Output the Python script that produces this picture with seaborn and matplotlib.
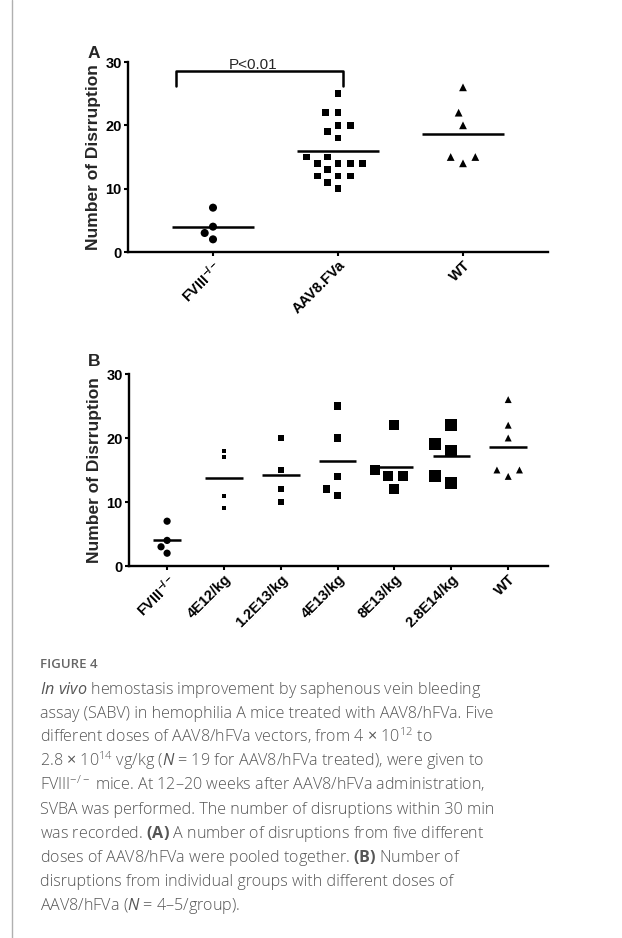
import numpy as np
import pandas as pd
import matplotlib
matplotlib.use('Agg')
import matplotlib.pyplot as plt
import seaborn as sns
from matplotlib.lines import Line2D

# ---- data ----
# panel A: pooled AAV8 doses
groups_a = ['FVIII$^{\\mathregular{-/-}}$', 'AAV8.FVa', 'WT']
fviii_ko = [7, 4, 3, 2]
aav8_pooled = [25, 22, 22, 20, 20, 19, 18, 15, 15, 14, 14, 14, 14, 13, 12, 12, 12, 11, 10]
wild_type = [26, 22, 20, 15, 15, 14]

# panel B: individual dose groups
groups_b = ['FVIII$^{\\mathregular{-/-}}$', '4E12/kg', '1.2E13/kg', '4E13/kg',
            '8E13/kg', '2.8E14/kg', 'WT']
dose_4e12 = [18, 17, 11, 9]
dose_1p2e13 = [20, 15, 12, 10]
dose_4e13 = [25, 20, 14, 12, 11]
dose_8e13 = [22, 15, 14, 14, 12]
dose_2p8e14 = [22, 19, 18, 14, 13]

p_label = 'P<0.01'
y_title = 'Number of Disrruption'

caption_head = 'FIGURE 4'
caption_lines = [
    r'$\mathit{In\ vivo}$ hemostasis improvement by saphenous vein bleeding',
    'assay (SABV) in hemophilia A mice treated with AAV8/hFVa. Five',
    r'different doses of AAV8/hFVa vectors, from 4 $\times$ 10$^{\mathregular{12}}$ to',
    r'2.8 $\times$ 10$^{\mathregular{14}}$ vg/kg ($\mathit{N}$ = 19 for AAV8/hFVa treated), were given to',
    r'FVIII$^{\mathregular{-/-}}$ mice. At 12–20 weeks after AAV8/hFVa administration,',
    'SVBA was performed. The number of disruptions within 30 min',
    r'was recorded. $\mathbf{(A)}$ A number of disruptions from five different',
    r'doses of AAV8/hFVa were pooled together. $\mathbf{(B)}$ Number of',
    'disruptions from individual groups with different doses of',
    r'AAV8/hFVa ($\mathit{N}$ = 4–5/group).',
]

sns.set_style('ticks')
plt.rcParams['font.family'] = ['Liberation Sans', 'DejaVu Sans']
plt.rcParams['mathtext.fontset'] = 'custom'
plt.rcParams['mathtext.rm'] = 'Open Sans'
plt.rcParams['mathtext.it'] = 'Open Sans:italic'
plt.rcParams['mathtext.bf'] = 'Open Sans:bold'

W, H = 622, 938
fig = plt.figure(figsize=(W / 100, H / 100), dpi=100)
fig.patch.set_facecolor('white')


def draw_panel(ax, labels, series, markers, sizes, gutters, half_widths):
    df = pd.DataFrame({'group': np.repeat(labels, [len(s) for s in series]),
                       'count': np.concatenate(series)})
    # invisible edge width only widens the swarm spacing (GraphPad-like spread)
    for lab, mk, sz, gut in zip(labels, markers, sizes, gutters):
        sns.swarmplot(data=df[df['group'] == lab], x='group', y='count',
                      order=labels, marker=mk, size=sz, color='black',
                      linewidth=gut, edgecolor='none', ax=ax)
    means = df.groupby('group', sort=False)['count'].mean()
    for i, lab in enumerate(labels):
        ax.hlines(means[lab], i - half_widths[i], i + half_widths[i],
                  color='black', lw=1.8, zorder=3)
    ax.set_ylim(0, 30)
    ax.set_yticks([0, 10, 20, 30])
    sns.despine(ax=ax)
    for side in ['left', 'bottom']:
        ax.spines[side].set_linewidth(1.7)
        ax.spines[side].set_color('black')
    ax.tick_params(width=1.5, length=3, pad=1.5, colors='black')
    ax.tick_params(axis='y', labelsize=10.5)
    ax.tick_params(axis='x', labelsize=10.5)
    ax.set_xlabel('')
    ax.set_ylabel(y_title, fontsize=12.5, fontweight='bold', labelpad=3)
    plt.setp(ax.get_xticklabels(), rotation=45, ha='right',
             rotation_mode='anchor', fontweight='bold')
    plt.setp(ax.get_yticklabels(), fontweight='bold')


# panel A
ax_a = fig.add_axes([128 / W, 1 - 252 / H, 420 / W, 190 / H])
draw_panel(ax_a, groups_a, [fviii_ko, aav8_pooled, wild_type],
           ['o', 's', '^'], [5.8, 5.0, 5.6], [1.5, 3.5, 4.0],
           [0.33, 0.33, 0.33])
ax_a.set_xlim(-0.68, 2.68)
ax_a.plot([-0.3, -0.3, 1.04, 1.04], [26.2, 28.6, 28.6, 26.2], color='black',
          lw=1.8, clip_on=False)
ax_a.text(0.32, 28.85, p_label, ha='center', va='baseline', fontsize=11)

# panel B
ax_b = fig.add_axes([129 / W, 1 - 566 / H, 419 / W, 192 / H])
draw_panel(ax_b, groups_b,
           [fviii_ko, dose_4e12, dose_1p2e13, dose_4e13, dose_8e13, dose_2p8e14, wild_type],
           ['o', 's', 's', 's', 's', 's', '^'],
           [5.2, 3.0, 4.3, 5.4, 7.2, 8.6, 5.0],
           [1.0, 1.0, 1.0, 3.5, 3.0, 3.5, 4.0],
           [0.25, 0.33, 0.33, 0.33, 0.33, 0.33, 0.33])
ax_b.set_xlim(-0.67, 6.70)

fig.text(94 / W, 1 - 53 / H, 'A', ha='center', va='center', fontsize=12.5, fontweight='bold')
fig.text(94 / W, 1 - 361 / H, 'B', ha='center', va='center', fontsize=12.5, fontweight='bold')

# caption
fig.text(40 / W, 1 - 668 / H, caption_head, ha='left', va='baseline',
         fontsize=9.5, color='#666666', family='Open Sans', fontweight='semibold')
for i, line in enumerate(caption_lines):
    fig.text(40 / W, 1 - (694 + 24 * i) / H, line, ha='left', va='baseline',
             fontsize=11.6, color='#555555', family='Open Sans', fontweight='light')

# frame of the figure box
fig.add_artist(Line2D([12 / W, 12 / W], [0, 1], transform=fig.transFigure,
                      color='#b0b0b0', lw=1))

fig.savefig('out.png', dpi=100)
